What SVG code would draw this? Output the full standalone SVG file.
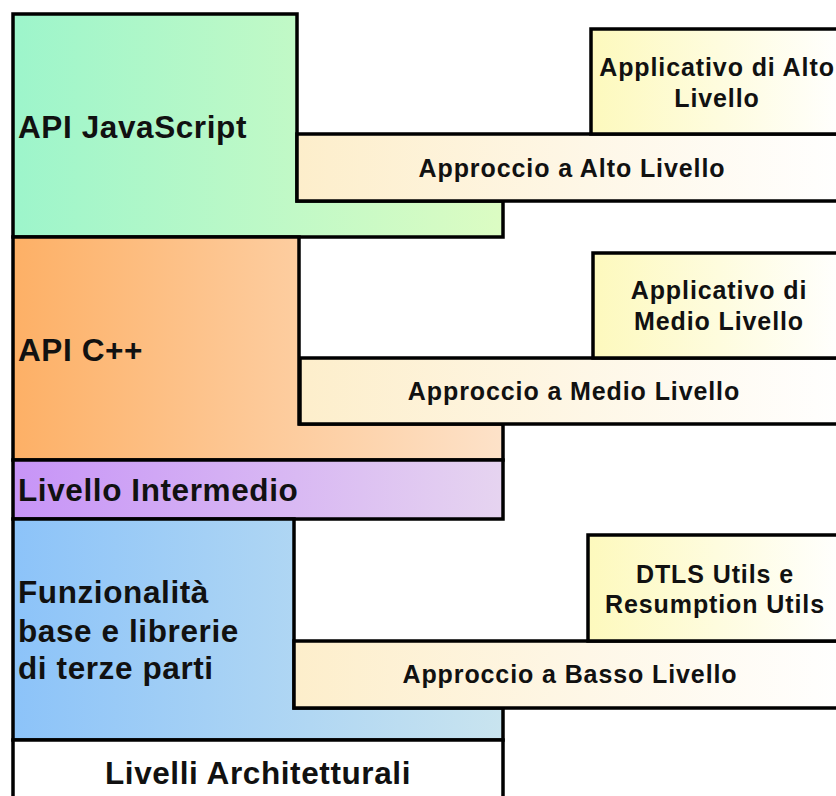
<svg xmlns="http://www.w3.org/2000/svg" width="836" height="796" viewBox="0 0 836 796">
<defs>
<linearGradient id="gJs" x1="0" y1="0" x2="1" y2="0"><stop offset="0" stop-color="#9df5cb"/><stop offset="1" stop-color="#dcfcc3"/></linearGradient>
<linearGradient id="gCpp" x1="0" y1="0" x2="1" y2="0"><stop offset="0" stop-color="#fdb066"/><stop offset="1" stop-color="#fde2c9"/></linearGradient>
<linearGradient id="gMid" x1="0" y1="0" x2="1" y2="0"><stop offset="0" stop-color="#c794f7"/><stop offset="1" stop-color="#e6d4f0"/></linearGradient>
<linearGradient id="gBase" x1="0" y1="0" x2="1" y2="0"><stop offset="0" stop-color="#8cc3f9"/><stop offset="1" stop-color="#c9e4ef"/></linearGradient>
<linearGradient id="gBar" x1="0" y1="0" x2="1" y2="0"><stop offset="0" stop-color="#fdeecb"/><stop offset="1" stop-color="#ffffff"/></linearGradient>
<linearGradient id="gApp" x1="0" y1="0" x2="1" y2="0"><stop offset="0" stop-color="#fdf9bd"/><stop offset="1" stop-color="#ffffff"/></linearGradient>
</defs>
<style>
.box{stroke:#000;stroke-width:3.5;stroke-linejoin:miter}
.big{font-family:"Liberation Sans",Arial,sans-serif;font-weight:bold;font-size:31.5px;fill:#111;letter-spacing:0.6px}
.sm{font-family:"Liberation Sans",Arial,sans-serif;font-weight:bold;font-size:25px;fill:#111;text-anchor:middle;letter-spacing:0.9px}
</style>
<rect width="836" height="796" fill="#fff"/>
<g id="layer-js">
<polygon class="box" fill="url(#gJs)" points="13,14 297,14 297,201 503,201 503,237 13,237"/>
<text class="big" x="18" y="138">API JavaScript</text>
</g>
<g id="layer-cpp">
<polygon class="box" fill="url(#gCpp)" points="13,237 299,237 299,424 503,424 503,460 13,460"/>
<text class="big" x="18" y="361">API C++</text>
</g>
<g id="layer-intermedio">
<rect class="box" fill="url(#gMid)" x="13" y="460" width="490" height="59"/>
<text class="big" x="18" y="501">Livello Intermedio</text>
</g>
<g id="layer-base">
<polygon class="box" fill="url(#gBase)" points="13,519 294,519 294,708 503,708 503,740 13,740"/>
<text class="big" x="18" y="603">Funzionalità</text>
<text class="big" x="18" y="642">base e librerie</text>
<text class="big" x="18" y="679">di terze parti</text>
</g>
<g id="layer-title">
<rect class="box" fill="#fff" x="13" y="740" width="490" height="70"/>
<text class="big" x="258" y="784" text-anchor="middle">Livelli Architetturali</text>
</g>
<g id="bar-alto">
<rect class="box" fill="url(#gBar)" x="297" y="134" width="550" height="67"/>
<text class="sm" x="572" y="177">Approccio a Alto Livello</text>
</g>
<g id="app-alto">
<rect class="box" fill="url(#gApp)" x="591" y="29" width="255" height="105"/>
<text class="sm" x="717" y="76">Applicativo di Alto</text>
<text class="sm" x="717" y="107">Livello</text>
</g>
<g id="bar-medio">
<rect class="box" fill="url(#gBar)" x="300" y="358" width="547" height="66"/>
<text class="sm" x="574" y="400">Approccio a Medio Livello</text>
</g>
<g id="app-medio">
<rect class="box" fill="url(#gApp)" x="593" y="253" width="253" height="105"/>
<text class="sm" x="719" y="299">Applicativo di</text>
<text class="sm" x="719" y="330">Medio Livello</text>
</g>
<g id="bar-basso">
<rect class="box" fill="url(#gBar)" x="294" y="641" width="552" height="67"/>
<text class="sm" x="570" y="683">Approccio a Basso Livello</text>
</g>
<g id="app-basso">
<rect class="box" fill="url(#gApp)" x="588" y="535" width="257" height="106"/>
<text class="sm" x="715" y="583">DTLS Utils e</text>
<text class="sm" x="715" y="613">Resumption Utils</text>
</g>
<g id="connectors"></g>
</svg>
